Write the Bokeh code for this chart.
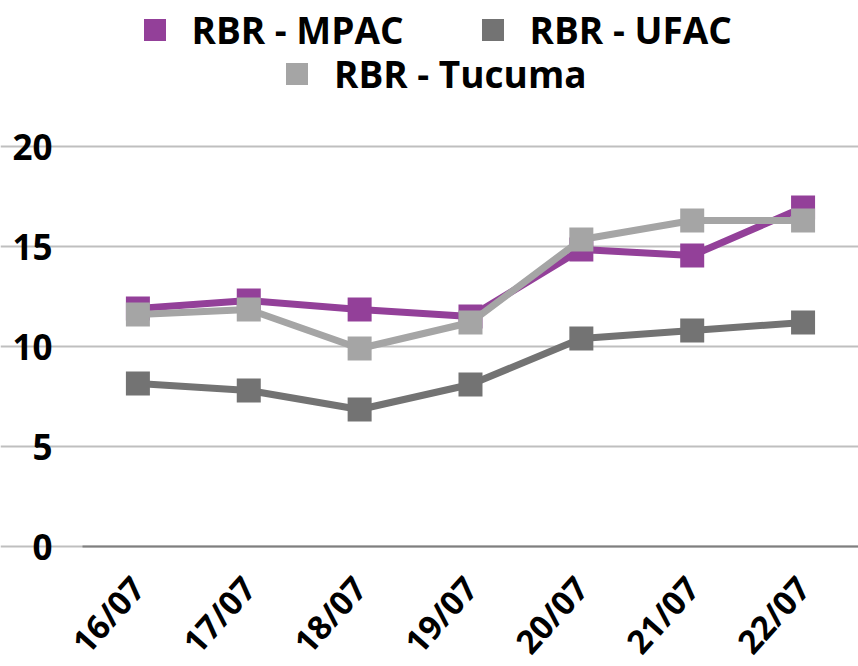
from bokeh.plotting import figure
from bokeh.models import (ColumnDataSource, Range1d, FixedTicker,
                          Legend, LegendItem)
from bokeh.embed import file_html
from bokeh.resources import INLINE

dates = ["16/07", "17/07", "18/07", "19/07", "20/07", "21/07", "22/07"]
mpac = [11.9, 12.3, 11.85, 11.5, 14.85, 14.55, 16.95]
ufac = [8.15, 7.8, 6.85, 8.1, 10.4, 10.8, 11.2]
tucuma = [11.6, 11.85, 9.9, 11.2, 15.35, 16.3, 16.3]
y_ticks = [0, 5, 10, 15, 20]

names = ["RBR - MPAC", "RBR - UFAC", "RBR - Tucuma"]
colors = ["#934099", "#737373", "#A5A5A5"]

FONT = "Open Sans"

pos = list(range(len(dates)))          # category slots
n = len(dates)

# the frame covers the whole page: legend room above 20, label room below 0,
# axis-label room left of the first category slot
p = figure(width=858, height=666, output_backend="svg", toolbar_location=None,
           x_range=Range1d(-1.2394, n - 0.5),
           y_range=Range1d(-6.0, 27.3),
           min_border_left=0, min_border_right=0, min_border_top=0,
           min_border_bottom=0)
p.outline_line_color = None
p.background_fill_color = "white"
p.border_fill_color = "white"

src = ColumnDataSource(dict(x=pos, mpac=mpac, ufac=ufac, tucuma=tucuma))

markers = []
for name, col, key in zip(names, colors, ["mpac", "ufac", "tucuma"]):
    p.line("x", key, source=src, line_color=col, line_width=7)
    sc = p.scatter("x", key, source=src, marker="square", size=24,
                   fill_color=col, line_color=col, line_width=0)
    markers.append(sc)

# y axis
p.yaxis.fixed_location = -0.5
p.yaxis.ticker = FixedTicker(ticks=y_ticks)
p.yaxis.axis_line_color = None
p.yaxis.major_tick_line_color = None
p.yaxis.minor_tick_line_color = None
p.yaxis.major_tick_out = 0
p.yaxis.major_label_standoff = 30
p.yaxis.major_label_text_font = FONT
p.yaxis.major_label_text_font_style = "bold"
p.yaxis.major_label_text_font_size = "35px"
p.yaxis.major_label_text_color = "black"

# x axis
p.xaxis.fixed_location = 0
p.xaxis.bounds = (-0.5, n - 0.5)
p.xaxis.ticker = FixedTicker(ticks=pos)
p.xaxis.major_label_overrides = {i: d for i, d in zip(pos, dates)}
p.xaxis.axis_line_color = "#7F7F7F"
p.xaxis.axis_line_width = 2
p.xaxis.major_tick_line_color = None
p.xaxis.minor_tick_line_color = None
p.xaxis.major_tick_out = 0
p.xaxis.major_label_standoff = 35
p.xaxis.major_label_orientation = 0.84
p.xaxis.major_label_text_font = FONT
p.xaxis.major_label_text_font_style = "bold"
p.xaxis.major_label_text_font_size = "33px"
p.xaxis.major_label_text_color = "black"

p.xgrid.grid_line_color = None
p.ygrid.ticker = FixedTicker(ticks=y_ticks)
p.ygrid.bounds = (-0.5, n - 0.5)
p.ygrid.grid_line_color = "#BFBFBF"
p.ygrid.grid_line_width = 2

def mk_legend(items, loc, spacing=0):
    return Legend(items=items, location=loc, orientation="horizontal",
                  padding=0, margin=0, spacing=spacing, label_standoff=10,
                  glyph_width=55, glyph_height=55,
                  border_line_color=None, background_fill_alpha=0,
                  label_text_font=FONT, label_text_font_style="bold",
                  label_text_font_size="37px", label_text_color="black")

lg1 = mk_legend([LegendItem(label=names[0], renderers=[markers[0]], index=0),
                 LegendItem(label=names[1], renderers=[markers[1]], index=0)],
                (126.5, 609), spacing=61)
lg2 = mk_legend([LegendItem(label=names[2], renderers=[markers[2]], index=0)],
                (269, 565))
p.add_layout(lg1, "center")
p.add_layout(lg2, "center")

open("out.html", "w").write(file_html(p, INLINE))
